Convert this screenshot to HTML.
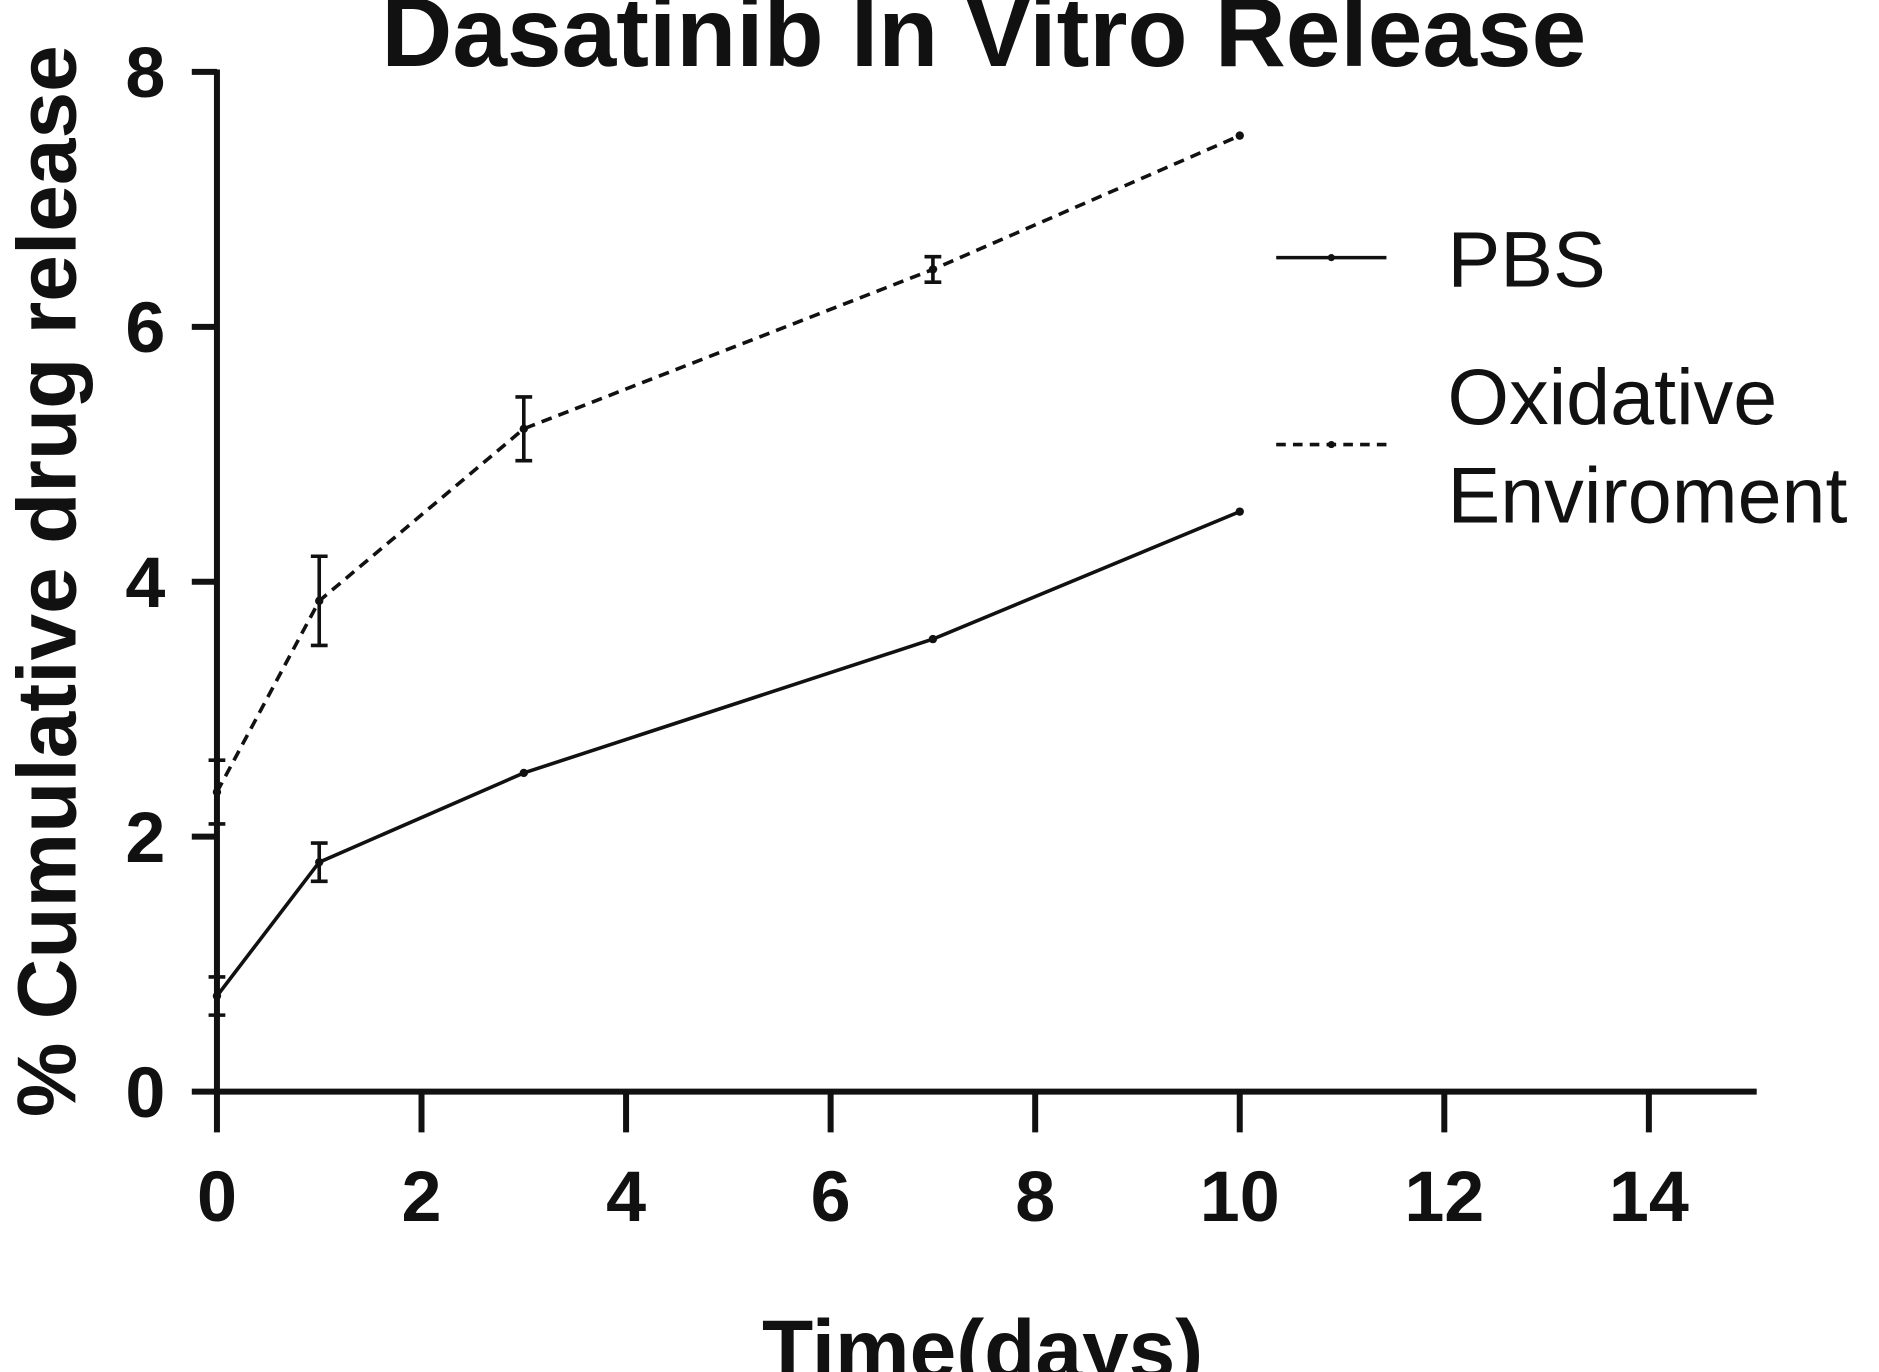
<!DOCTYPE html>
<html><head><meta charset="utf-8"><style>
html,body{margin:0;padding:0;background:#fff;}
svg{display:block;}
text{font-family:"Liberation Sans",sans-serif;fill:#111;}
</style></head><body>
<svg id="chart" width="1879" height="1372" viewBox="0 0 1568 1145" xmlns="http://www.w3.org/2000/svg">
<text x="821" y="55" text-anchor="middle" font-size="82" font-weight="bold">Dasatinib In Vitro Release</text>
<text transform="translate(63,485) rotate(-90)" text-anchor="middle" font-size="70" font-weight="bold">% Cumulative drug release</text>
<text x="820" y="1150" text-anchor="middle" font-size="70" font-weight="bold">Time(days)</text>
<g id="axes"></g><g id="series"></g>
<g>
<line x1="1065" y1="215" x2="1157" y2="215" stroke="#111" stroke-width="3"/>
<circle cx="1111" cy="215" r="3" fill="#111"/>
<text x="1208" y="239" font-size="66">PBS</text>
<line x1="1065" y1="371" x2="1157" y2="371" stroke="#111" stroke-width="3" stroke-dasharray="8,6"/>
<circle cx="1111" cy="371" r="3" fill="#111"/>
<text x="1208" y="354" font-size="66">Oxidative</text>
<text x="1208" y="436" font-size="66">Enviroment</text>
</g>
</svg>
<script>
const days = [0, 1, 3, 7, 10];
const pbsValues = [0.75, 1.8, 2.5, 3.55, 4.55];
const pbsErrors = [0.15, 0.15, 0, 0, 0];
const oxValues = [2.35, 3.85, 5.2, 6.45, 7.5];
const oxErrors = [0.25, 0.35, 0.25, 0.1, 0];
const xTicks = [0, 2, 4, 6, 8, 10, 12, 14];
const yTicks = [0, 2, 4, 6, 8];

const NS = "http://www.w3.org/2000/svg";
const X0 = 181, XPER = (1376 - 181) / 14, Y0 = 911, YPER = (911 - 60) / 8;
const sx = d => X0 + d * XPER;
const sy = v => Y0 - v * YPER;
function mk(tag, attrs, parent) {
  const e = document.createElementNS(NS, tag);
  for (const k in attrs) e.setAttribute(k, attrs[k]);
  parent.appendChild(e);
  return e;
}
const axes = document.getElementById('axes');
const series = document.getElementById('series');
let a = mk('line', {x1: X0, y1: 58, x2: X0, y2: Y0 + 2, stroke: '#111', 'stroke-width': 5}, axes);


a = mk('line', {x1: X0 - 2, y1: Y0, x2: 1466, y2: Y0, stroke: '#111', 'stroke-width': 5}, axes);


yTicks.forEach(v => {
  const t = mk('line', {x1: 160, y1: sy(v), x2: X0, y2: sy(v), stroke: '#111', 'stroke-width': 5}, axes);
  
  
  const l = mk('text', {x: 138, y: sy(v) + 21, 'text-anchor': 'end', 'font-size': 60, 'font-weight': 'bold'}, axes);
  l.textContent = v;
  
  
});
xTicks.forEach(d => {
  const t = mk('line', {x1: sx(d), y1: Y0, x2: sx(d), y2: 945, stroke: '#111', 'stroke-width': 5}, axes);
  
  
  const l = mk('text', {x: sx(d), y: 1019, 'text-anchor': 'middle', 'font-size': 60, 'font-weight': 'bold'}, axes);
  l.textContent = d;
  
  
});
function drawSeries(vals, errs, dash, name) {
  const p = mk('polyline', {points: days.map((d, i) => sx(d) + ',' + sy(vals[i])).join(' '), fill: 'none', stroke: '#111', 'stroke-width': 3, 'stroke-dasharray': dash}, series);
  
  
  days.forEach((d, i) => {
    const x = sx(d);
    if (errs[i] > 0) {
      const yt = sy(vals[i] + errs[i]), yb = sy(vals[i] - errs[i]);
      const g = mk('path', {d: `M${x},${yt}V${yb}M${x-7},${yt}H${x+7}M${x-7},${yb}H${x+7}`, stroke: '#111', 'stroke-width': 3, fill: 'none'}, series);
      
      
    }
    const c = mk('circle', {cx: x, cy: sy(vals[i]), r: 3.5, fill: '#111'}, series);
    
    
  });
}
drawSeries(pbsValues, pbsErrors, 'none', 'pbs');
drawSeries(oxValues, oxErrors, '9,6', 'oxidative');
</script>
</body></html>
